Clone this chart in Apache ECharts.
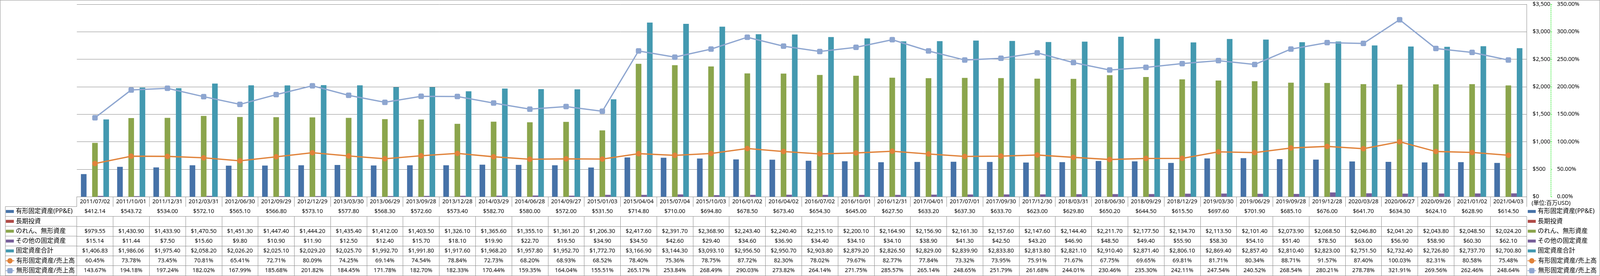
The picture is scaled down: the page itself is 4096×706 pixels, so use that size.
<!DOCTYPE html>
<html><head><meta charset="utf-8">
<script src="https://cdn.jsdelivr.net/npm/echarts@6/dist/echarts.min.js"></script>
<style>html,body{margin:0;padding:0;background:#fff}#c{width:4096px;height:706px}</style>
</head><body><div id="c"></div>
<script>
// ---------- data ----------
const categories = ['2011/07/02','2011/10/01','2011/12/31','2012/03/31','2012/06/30','2012/09/29','2012/12/29','2013/03/30','2013/06/29','2013/09/28','2013/12/28','2014/03/29','2014/06/28','2014/09/27','2015/01/03','2015/04/04','2015/07/04','2015/10/03','2016/01/02','2016/04/02','2016/07/02','2016/10/01','2016/12/31','2017/04/01','2017/07/01','2017/09/30','2017/12/30','2018/03/31','2018/06/30','2018/09/29','2018/12/29','2019/03/30','2019/06/29','2019/09/28','2019/12/28','2020/03/28','2020/06/27','2020/09/26','2021/01/02','2021/04/03'];
const ppe = [412.14,543.72,534.00,572.10,565.10,566.80,573.10,577.80,568.30,572.60,573.40,582.70,580.00,572.00,531.50,714.80,710.00,694.80,678.50,673.40,654.30,645.00,627.50,633.20,637.30,633.70,623.00,629.80,650.20,644.50,615.50,697.60,701.90,685.10,676.00,641.70,634.30,624.10,628.90,614.50];
const longTermInvest = [];
const goodwill = [979.55,1430.90,1433.90,1470.50,1451.30,1447.40,1444.20,1435.40,1412.00,1403.50,1326.10,1365.60,1355.10,1361.20,1206.30,2417.60,2391.70,2368.90,2243.40,2240.40,2215.10,2200.10,2164.90,2156.90,2161.30,2157.60,2147.60,2144.40,2211.70,2177.50,2134.70,2113.50,2101.40,2073.90,2068.50,2046.80,2041.20,2043.80,2048.50,2024.20];
const otherAssets = [15.14,11.44,7.50,15.60,9.80,10.90,11.90,12.50,12.40,15.70,18.10,19.90,22.70,19.50,34.90,34.50,42.60,29.40,34.60,36.90,34.40,34.10,34.10,38.90,41.30,42.50,43.20,46.90,48.50,49.40,55.90,58.30,54.10,51.40,78.50,63.00,56.90,58.90,60.30,62.10];
const totalFixed = [1406.83,1986.06,1975.40,2058.20,2026.20,2025.10,2029.20,2025.70,1992.70,1991.80,1917.60,1968.20,1957.80,1952.70,1772.70,3166.90,3144.30,3093.10,2956.50,2950.70,2903.80,2879.20,2826.50,2829.00,2839.90,2833.80,2813.80,2821.10,2910.40,2871.40,2806.10,2869.40,2857.40,2810.40,2823.00,2751.50,2732.40,2726.80,2737.70,2700.80];
const ppeToSales = [60.45,73.78,73.45,70.81,65.41,72.71,80.09,74.25,69.14,74.54,78.84,72.73,68.20,68.93,68.52,78.40,75.36,78.75,87.72,82.30,78.02,79.67,82.77,77.84,73.32,73.95,75.91,71.67,67.75,69.65,69.81,81.71,80.34,88.71,91.57,87.40,100.03,82.31,80.58,75.48];
const intangToSales = [143.67,194.18,197.24,182.02,167.99,185.68,201.82,184.45,171.78,182.70,182.33,170.44,159.35,164.04,155.51,265.17,253.84,268.49,290.03,273.82,264.14,271.75,285.57,265.14,248.65,251.79,261.68,244.01,230.46,235.30,242.11,247.54,240.52,268.54,280.21,278.78,321.91,269.56,262.46,248.64];
const seriesNames = ['有形固定資産(PP&E)','長期投資','のれん、無形資産','その他の固定資産','固定資産合計','有形固定資産/売上高','無形固定資産/売上高'];
const usdTicks = {min:0, max:3500, interval:500};
const pctTicks = {min:0, max:350, interval:50};
const unitLabel = '(単位:百万USD)';

// ---------- layout / style ----------
const S = 0.822, W = 4096, H = 706;
const gridLeft = 239.3*S, gridRightX = 4754*S, gridTop = 13.3*S, gridBottomY = 612.3*S;
const dateRowH = (642.7-612.3)*S;
const rowH = 30.7*S;
const tableTop = gridBottomY + dateRowH;
const headerLeft = 16.7*S;
const lineColor = '#8a8a8a';
const FONT = "'Noto Sans','Noto Sans CJK JP',sans-serif";
const colors = ['#4672a8','#b04a46','#8ba54c','#775f9a','#4399b0','#e0823a','#8ea6d0'];
const NUM_FS = 14.5, LEG_FS = 16;

const money = v => (v==null) ? '' : '$' + v.toLocaleString('en-US',{minimumFractionDigits:2, maximumFractionDigits:2});
const pct = v => (v==null) ? '' : v.toFixed(2) + '%';
const rowValues = [ppe, longTermInvest, goodwill, otherAssets, totalFixed, ppeToSales, intangToSales];
const rowFmt = [money, money, money, money, money, pct, pct];

const labelStyle = {fontSize: NUM_FS, lineHeight: NUM_FS, color:'#000', fontFamily: FONT};
const xAxes = [{
  type:'category', data:categories, gridIndex:0, position:'bottom',
  axisLine:{lineStyle:{color:lineColor, width:1}},
  axisTick:{show:true, interval:0, length:dateRowH, lineStyle:{color:lineColor}},
  axisLabel:Object.assign({interval:0, margin:(dateRowH-NUM_FS)/2}, labelStyle),
  splitLine:{show:false}
}];
rowValues.forEach((vals, i) => {
  xAxes.push({
    type:'category', data:categories, gridIndex:0, position:'bottom', offset: dateRowH + i*rowH,
    axisLine:{lineStyle:{color:lineColor, width:1}},
    axisTick:{show:true, interval:0, length:rowH, lineStyle:{color:lineColor}},
    axisLabel:Object.assign({interval:0, margin:(rowH-NUM_FS)/2, formatter:(v, idx) => rowFmt[i](vals[idx])}, labelStyle),
    splitLine:{show:false}
  });
});
xAxes.push({
  type:'category', data:categories, gridIndex:0, position:'bottom', offset: dateRowH + 7*rowH,
  axisLine:{lineStyle:{color:lineColor, width:1}}, axisTick:{show:false}, axisLabel:{show:false}, splitLine:{show:false}
});

const rowCenter = k => tableTop + (k + 0.5)*rowH;
const legendText = {fontSize: LEG_FS, lineHeight: 18, color:'#000', fontFamily: FONT};
const barNames = seriesNames.slice(0,5), lineNames = seriesNames.slice(5);
function legends(xRect, xLine){
  return [
    {data: barNames, orient:'vertical', left:xRect, top: rowCenter(0)-9, itemWidth:20.5, itemHeight:7.5, itemGap: rowH-18, padding:0, icon:'rect', selectedMode:false, textStyle:legendText},
    {data: lineNames, orient:'vertical', left:xLine, top: rowCenter(5)-9, itemWidth:22, itemHeight:17, itemGap: rowH-18, padding:0, selectedMode:false, textStyle:legendText}
  ];
}

const graphic = [{type:'rect', silent:true, shape:{x:0.5, y:0.5, width:W-1, height:H-1}, style:{fill:null, stroke:'#8c8c8c', lineWidth:1}},
  {type:'line', silent:true, shape:{x1:headerLeft, y1:tableTop, x2:headerLeft, y2:tableTop+7*rowH}, style:{stroke:lineColor, lineWidth:1}}];
for (let k=0;k<=7;k++){
  graphic.push({type:'line', silent:true, shape:{x1:headerLeft, y1:tableTop+k*rowH, x2:gridLeft, y2:tableTop+k*rowH}, style:{stroke:lineColor, lineWidth:1}});
}

const barData = [ppe, longTermInvest, goodwill, otherAssets, totalFixed];
const series = barData.map((d, i) => ({
  name: seriesNames[i], type:'bar', data:d, xAxisIndex:0, yAxisIndex:0,
  barGap:'0%', barCategoryGap:'22.5%', itemStyle:{color:colors[i]}
}));
series.push({
  name: seriesNames[5], type:'line', data:ppeToSales, xAxisIndex:0, yAxisIndex:1,
  symbol:'circle', symbolSize:14, itemStyle:{color:colors[5]}, lineStyle:{color:colors[5], width:3.3}
});
series.push({
  name: seriesNames[6], type:'line', data:intangToSales, xAxisIndex:0, yAxisIndex:1,
  symbol:'roundRect', symbolSize:14, itemStyle:{color:colors[6]}, lineStyle:{color:colors[6], width:3.3}
});

const option = {
  animation:false,
  backgroundColor:'#fff',
  color: colors,
  title:{text:unitLabel, left:4770*S, top:633*S-8.5, padding:0, textStyle:{fontSize:NUM_FS, lineHeight:17, fontWeight:'normal', color:'#000', fontFamily:FONT}},
  grid:{left:gridLeft, right:W-gridRightX, top:gridTop, bottom:H-gridBottomY},
  legend: legends(16.4*S+1.5, 13.5).concat(legends(4758*S, 4756*S)),
  xAxis: xAxes,
  yAxis:[
    {type:'value', position:'right', min:usdTicks.min, max:usdTicks.max, interval:usdTicks.interval,
      axisLine:{show:true, lineStyle:{color:lineColor, width:1}}, axisTick:{show:false},
      axisLabel:{margin:(4773-4754)*S, fontSize:NUM_FS, color:'#000', fontFamily:FONT, formatter:v => '$' + v.toLocaleString('en-US')},
      splitLine:{show:true, lineStyle:{color:'#868686', width:1}}},
    {type:'value', position:'right', offset:(4830-4754)*S, min:pctTicks.min, max:pctTicks.max, interval:pctTicks.interval,
      axisLine:{show:true, lineStyle:{color:'#00e600', width:1, type:[3,2]}},
      axisTick:{show:true, length:3, lineStyle:{color:'#00e600'}},
      axisLabel:{margin:(4849-4830)*S, fontSize:NUM_FS, color:'#000', fontFamily:FONT, formatter:v => v.toFixed(2) + '%'},
      splitLine:{show:false}}
  ],
  graphic: graphic,
  series: series
};
const chart = echarts.init(document.getElementById('c'), null, {renderer:'canvas'});
chart.setOption(option);
</script></body></html>
